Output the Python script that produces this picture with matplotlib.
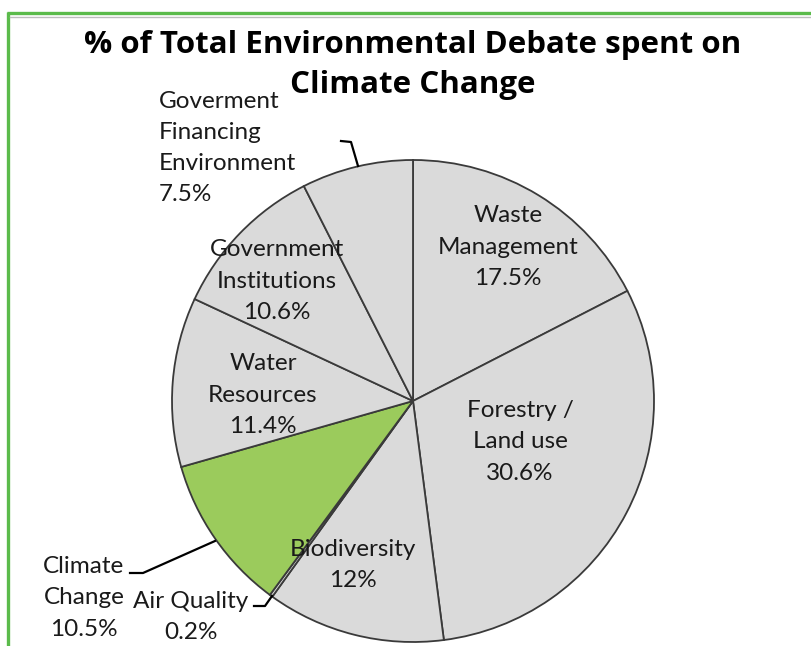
import matplotlib
matplotlib.use("Agg")
import matplotlib.pyplot as plt

# Share of environmental debate by topic, clockwise from 12 o'clock
topics = ["Waste\nManagement", "Forestry /\nLand use", "Biodiversity", "Air Quality",
          "Climate\nChange", "Water\nResources", "Government\nInstitutions",
          "Goverment\nFinancing\nEnvironment"]
shares = [17.5, 30.6, 12.0, 0.2, 10.5, 11.4, 10.6, 7.5]
share_text = ["17.5%", "30.6%", "12%", "0.2%", "10.5%", "11.4%", "10.6%", "7.5%"]
highlight = "Climate\nChange"

W, H = 811, 646
fig = plt.figure(figsize=(W / 100, H / 100), dpi=100)
ax = fig.add_axes([0, 0, 1, 1])


def Y(y):
    return H - y


GRAY = "#dadada"
GREEN = "#9bcb5c"
EDGE = "#3a3a3a"
colors = [GREEN if t == highlight else GRAY for t in topics]

cx, cy, r = 413, 401, 241
ax.pie(shares, colors=colors, startangle=90, counterclock=False,
       center=(cx, Y(cy)), radius=r, frame=True,
       wedgeprops=dict(edgecolor=EDGE, linewidth=1.3))
ax.set_xlim(0, W)
ax.set_ylim(0, H)
ax.set_aspect("equal")
ax.axis("off")

# frame lines
ax.plot([8, 8], [Y(12), Y(H + 5)], color="#5bbb4b", lw=2.4, solid_capstyle="butt", clip_on=False)
ax.plot([7, W], [Y(13), Y(13)], color="#5bbb4b", lw=2.4, solid_capstyle="butt")
ax.plot([9.5, W], [Y(16.5), Y(16.5)], color="#bdbdbd", lw=1.0)

title_font = dict(family="Open Sans", weight="bold", size=22.5, color="black")
ax.text(413, Y(45), "% of Total Environmental Debate spent on", ha="center", va="center", **title_font)
ax.text(413, Y(85), "Climate Change", ha="center", va="center", **title_font)

lab_font = dict(family="Lato", size=17.5, color="#1a1a1a", linespacing=1.6)

# label anchors (centre of text block) and alignment per slice
label_pos = {
    "Waste\nManagement": (508, 247, "center"),
    "Forestry /\nLand use": (520, 442, "center"),
    "Biodiversity": (353, 565, "center"),
    "Air Quality": (191, 617, "center"),
    "Climate\nChange": (84, 598, "center"),
    "Water\nResources": (263, 395, "center"),
    "Government\nInstitutions": (277, 281, "center"),
    "Goverment\nFinancing\nEnvironment": (159, 148, "left"),
}
for t, s in zip(topics, share_text):
    x, y, ha = label_pos[t]
    ax.text(x, Y(y), f"{t}\n{s}", ha=ha, va="center", multialignment=ha, **lab_font)

# leader lines
lk = dict(color="black", lw=1.6)
ax.plot([341, 351, 358], [Y(141), Y(142), Y(166)], **lk)
ax.plot([130, 143, 215], [Y(573), Y(573), Y(541)], **lk)
ax.plot([254, 265, 272], [Y(606), Y(606), Y(596)], **lk)

fig.savefig("out.png", dpi=100, facecolor="white")
